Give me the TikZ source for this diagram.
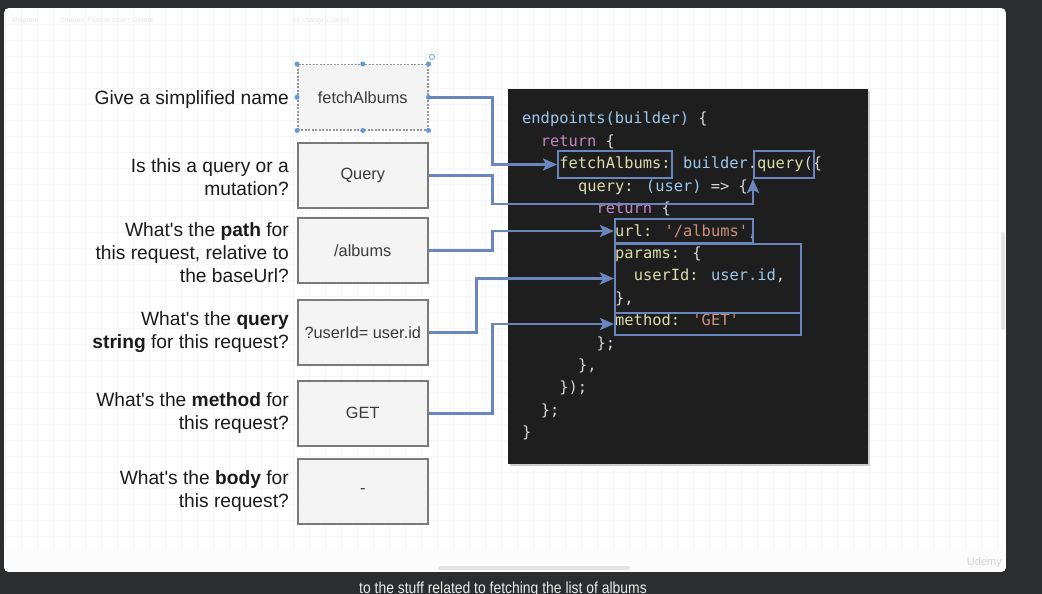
\documentclass[tikz,border=0pt]{standalone}
\usepackage{fontspec}
\setmainfont{Liberation Sans}
\newfontfamily\codefont{DejaVu Sans Mono}
\usetikzlibrary{arrows.meta}
\definecolor{bgdark}{HTML}{2C2D2F}
\definecolor{gridc}{HTML}{F5F5F7}
\definecolor{panelc}{HTML}{1E1E1E}
\definecolor{boxfill}{HTML}{F4F4F4}
\definecolor{boxline}{HTML}{7A7A7A}
\definecolor{boxtext}{HTML}{3A3A3A}
\definecolor{labelc}{HTML}{1A1A1A}
\definecolor{connc}{HTML}{6A86BE}
\definecolor{handlec}{HTML}{5D9BDC}
\definecolor{cdef}{HTML}{D4D4D4}
\definecolor{cfnc}{HTML}{DCDCAA}
\definecolor{cvarc}{HTML}{9CC8EE}
\definecolor{cstrc}{HTML}{CE9178}
\definecolor{ckwc}{HTML}{C586C0}
\definecolor{faintc}{HTML}{E4E4E6}
\newcommand\ckw[1]{\textcolor{ckwc}{#1}}
\newcommand\cfn[1]{\textcolor{cfnc}{#1}}
\newcommand\cvr[1]{\textcolor{cvarc}{#1}}
\newcommand\cst[1]{\textcolor{cstrc}{#1}}
\newcommand\apo{\textquotesingle}
\begin{document}
\begin{tikzpicture}[x=1pt,y=-1pt,
  lbl/.style={anchor=east, align=right, inner sep=0pt, text=labelc, font=\fontsize{19.2}{23}\selectfont},
  qbox/.style={draw=boxline, fill=boxfill, line width=1.5pt, minimum width=130pt, minimum height=65pt, anchor=north west, text=boxtext, font=\fontsize{16.3}{19}\selectfont},
  codeline/.style={anchor=base west, inner sep=0pt, text=cdef, font=\codefont\fontsize{15.4}{18}\selectfont},
  hl/.style={draw=connc, line width=2pt, anchor=north west, inner sep=0pt},
  conn/.style={draw=connc, line width=2.6pt, -{Stealth[length=14pt,width=12pt,inset=3pt]}},
  handle/.style={fill=handlec, circle, inner sep=0pt, minimum size=5pt},
  faint/.style={text=faintc, inner sep=0pt, anchor=base west, font=\fontsize{7}{8}\selectfont}]
\useasboundingbox (0,0) rectangle (1042,594);
\fill[bgdark] (0,0) rectangle (1042,594);
% canvas
\begin{scope}
\clip[rounded corners=5pt] (4,8) rectangle (1006,572);
\fill[white] (4,8) rectangle (1006,572);
\foreach \gx in {5,21,...,1000} \draw[gridc, line width=0.8pt] (\gx,8) -- (\gx,548);
\foreach \gy in {24.7,40.7,...,548} \draw[gridc, line width=0.8pt] (4,\gy) -- (1000,\gy);
\fill[white!98!gray] (4,548) rectangle (1006,572);
\fill[gray!22, rounded corners=1.5pt] (438,566) rectangle (630,570);
\fill[gray!22, rounded corners=2pt] (1001,232) rectangle (1005,330);
\end{scope}
% faint toolbar
\node[faint] (tb1) at (12,23) {Diagram};
\node[faint] (tb2) at (60,23) {Shapes\enspace Format};
\node[faint] (tb3) at (112,23) {Insert\enspace Delete};
\node[faint] (tb4) at (292,23) {All changes saved};
\node[text=gray!35, anchor=base east, inner sep=0pt, font=\fontsize{11}{12}\selectfont] (wm) at (1002,565) {Udemy};
% subtitle
\node[anchor=base, inner sep=0pt, text=white!92!black, font=\fontsize{16}{18}\selectfont] (sub) at (503,593) {\scalebox{0.87}[1]{to the stuff related to fetching the list of albums}};
% code panel
\fill[black!20] (510,91) rectangle (870,466);
\node[fill=panelc, minimum width=360pt, minimum height=375pt, anchor=north west, inner sep=0pt] (panel) at (508,89) {};
\node[codeline] (l1) at (522,124) {\cvr{endpoints(builder)} \{};
\node[codeline] (l2) at (540.6,146.4) {\ckw{return} \{};
\node[codeline] (l3) at (559.2,168.8) {\cfn{fetchAlbums:} \cvr{builder}\cfn{.query}(\{};
\node[codeline] (l4) at (577.8,191.2) {\cfn{query:} \cvr{(user)} => \{};
\node[codeline] (l5) at (596.4,213.6) {\ckw{return} \{};
\node[codeline] (l6) at (615,236) {\cfn{url:} \cst{'/albums'},};
\node[codeline] (l7) at (615,258.4) {\cfn{params:} \{};
\node[codeline] (l8) at (633.6,280.8) {\cfn{userId:} \cvr{user.id},};
\node[codeline] (l9) at (615,303.2) {\},};
\node[codeline] (l10) at (615,325.6) {\cfn{method:} \cst{'GET'}};
\node[codeline] (l11) at (596.4,348) {\};};
\node[codeline] (l12) at (577.8,370.4) {\},};
\node[codeline] (l13) at (559.2,392.8) {\});};
\node[codeline] (l14) at (540.6,415.2) {\};};
\node[codeline] (l15) at (522,437.6) {\}};
% highlight boxes
\node[hl, minimum width=114pt, minimum height=27pt] (c1) at (557,150) {};
\node[hl, minimum width=60pt, minimum height=27pt] (c2) at (753,150) {};
\node[hl, minimum width=138pt, minimum height=24pt] (c3) at (614,218) {};
\node[hl, minimum width=186pt, minimum height=69pt] (c4) at (614,243) {};
\node[hl, minimum width=186pt, minimum height=22pt] (c5) at (614,312) {};
% question labels
\node[lbl] (q1) at (289,100) {Give a simplified name};
\node[lbl] (q2) at (289,177) {Is this a query or a\\mutation?};
\node[lbl] (q3) at (289,253) {What\apo s the \textbf{path} for\\this request, relative to\\the baseUrl?};
\node[lbl] (q4) at (289,332.5) {What\apo s the \textbf{query}\\\textbf{string} for this request?};
\node[lbl] (q5) at (289,413.5) {What\apo s the \textbf{method} for\\this request?};
\node[lbl] (q6) at (289,491.5) {What\apo s the \textbf{body} for\\this request?};
% answer boxes
\node[qbox, draw=boxline!80, dash pattern=on 2pt off 1.5pt] (b1) at (297,64) {fetchAlbums};
\node[qbox] (b2) at (297,142) {Query};
\node[qbox] (b3) at (297,217) {/albums};
\node[qbox] (b4) at (297,299) {?userId= user.id};
\node[qbox] (b5) at (297,380) {GET};
\node[qbox] (b6) at (297,458) {-};
% selection handles
\foreach \a in {north west,north,north east,west,east,south west,south,south east}
  \node[handle] at (b1.\a) {};
\node[draw=handlec, circle, line width=0.8pt, inner sep=0pt, minimum size=5pt] (rot) at (432,57) {};
% connectors
\draw[conn] (b1.east) -- ++(64,0) |- (c1.west);
\draw[conn] (b2.east) -- ++(64,0) |- ([yshift=-25pt]c2.south west) -- (c2.south west);
\draw[conn] (b3.east) -- ++(64,0) |- (c3.west);
\draw[conn] (b4.east) -- ++(48,0) |- (c4.west);
\draw[conn] (b5.east) -- ++(64,0) |- (c5.west);
\end{tikzpicture}
\end{document}
